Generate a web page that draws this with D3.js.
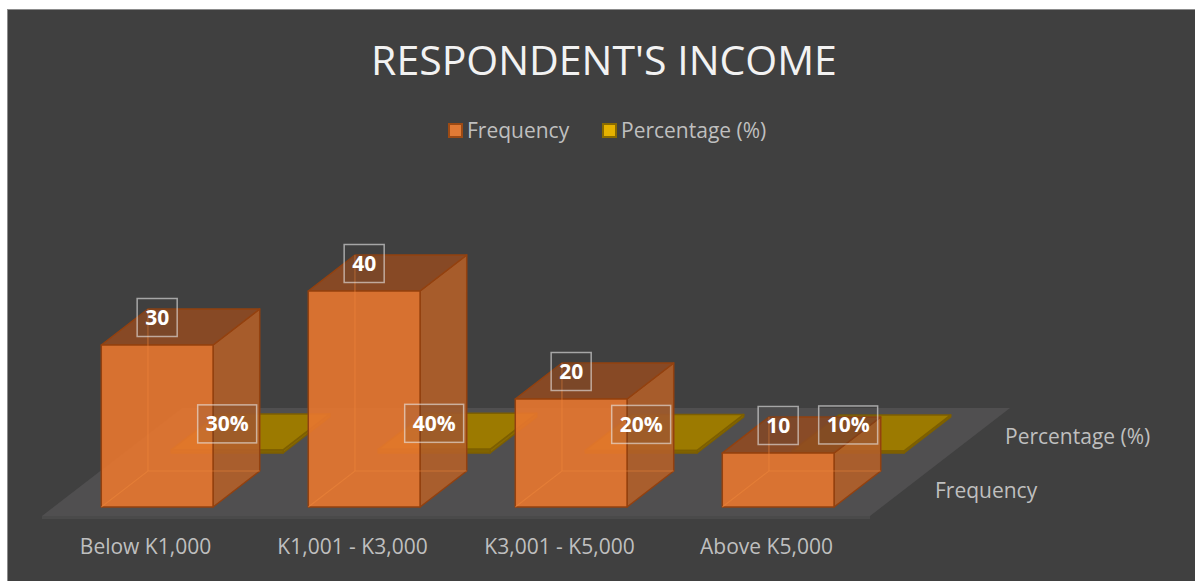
<!DOCTYPE html>
<html>
<head>
<meta charset="utf-8">
<script src="https://cdn.jsdelivr.net/npm/d3@7"></script>
<style>
  body { margin: 0; background: #ffffff; }
  svg { display: block; }
</style>
</head>
<body>
<script>
// data
var categories = ["Below K1,000", "K1,001 - K3,000", "K3,001 - K5,000", "Above K5,000"];
var seriesNames = ["Frequency", "Percentage (%)"];
var frequency = [30, 40, 20, 10];
var percentage = [0.30, 0.40, 0.20, 0.10];

var width = 1195, height = 581;
var baseY = 516, depthX = 140, depthY = 108;

var svg = d3.select("body").append("svg")
    .attr("width", width)
    .attr("height", height)
    .style("font-family", "'Open Sans', sans-serif");

// chart frame
svg.append("rect")
    .attr("x", 7.5).attr("y", 9.5)
    .attr("width", width).attr("height", height)
    .attr("fill", "#404040")
    .attr("stroke", "#8c8c8c");

// scales
var x = d3.scaleBand().domain(categories).range([42, 870])
    .paddingInner(0.46).paddingOuter(0.23);
var z = d3.scaleBand().domain(seriesNames).range([0, 1])
    .paddingInner(1 / 3).paddingOuter(1 / 6);
var y = d3.scaleLinear().domain([0, 50]).range([0, 270]);

function proj(px, h, zz) {
  return [px + zz * depthX, baseY - h - zz * depthY];
}
function poly(pts) { return pts.map(function(p) { return p.join(","); }).join(" "); }

// floor
var floor = [proj(42, 0, 0), proj(870, 0, 0), proj(870, 0, 1), proj(42, 0, 1)];
svg.append("polygon")
    .attr("points", poly([proj(42, 0, 0), proj(870, 0, 0), [870, baseY + 3], [42, baseY + 3]]))
    .attr("fill", "#4a4a4a");
svg.append("polygon").attr("points", poly(floor)).attr("fill", "#504f50");

function drawBar(g, cat, val, series, col) {
  var x0 = x(cat), x1 = x(cat) + x.bandwidth();
  var z0 = z(series), z1 = z(series) + z.bandwidth();
  var h = y(val) + col.extra;
  var fbl = proj(x0, 0, z0), fbr = proj(x1, 0, z0), ftl = proj(x0, h, z0), ftr = proj(x1, h, z0);
  var bbl = proj(x0, 0, z1), bbr = proj(x1, 0, z1), btl = proj(x0, h, z1), btr = proj(x1, h, z1);

  // side face
  g.append("polygon").attr("points", poly([fbr, bbr, btr, ftr]))
      .attr("fill", col.side).attr("fill-opacity", col.op)
      .attr("stroke", col.stroke).attr("stroke-width", 1.5).attr("stroke-linejoin", "round");
  // top face
  g.append("polygon").attr("points", poly([ftl, ftr, btr, btl]))
      .attr("fill", col.top).attr("fill-opacity", col.op)
      .attr("stroke", col.stroke).attr("stroke-width", 1.5).attr("stroke-linejoin", "round");
  // front face
  g.append("polygon").attr("points", poly([fbl, fbr, ftr, ftl]))
      .attr("fill", col.front).attr("fill-opacity", col.op)
      .attr("stroke", col.stroke).attr("stroke-width", 1.5).attr("stroke-linejoin", "round");
  // hidden edges seen through the transparent box
  if (col.hidden) {
    g.append("polyline").attr("points", poly([fbl, bbl, bbr]))
        .attr("fill", "none").attr("stroke", col.hidden).attr("stroke-width", 1.2);
    g.append("line")
        .attr("x1", bbl[0]).attr("y1", bbl[1]).attr("x2", btl[0]).attr("y2", btl[1])
        .attr("stroke", col.hidden).attr("stroke-width", 1.2);
  }
  return { cx: (ftl[0] + ftr[0]) / 2, top: ftl[1] };
}

var orange = { front: "#e8772f", side: "#b35f29", top: "#8f4a22", stroke: "#93410f", op: 0.9, extra: 0, hidden: "rgba(240,135,60,0.5)" };
var gold = { front: "#806300", side: "#8a6b00", top: "#9c7a00", stroke: "#7d5f00", op: 1, extra: 1.5, hidden: null };

// back row first, then front row
var labels = [];
var gBack = svg.append("g");
categories.forEach(function(c, i) {
  var p = drawBar(gBack, c, percentage[i], seriesNames[1], gold);
  labels.push({ x: p.cx, y: p.top - 26, text: d3.format(".0%")(percentage[i]) });
});
var gFront = svg.append("g");
categories.forEach(function(c, i) {
  var p = drawBar(gFront, c, frequency[i], seriesNames[0], orange);
  labels.push({ x: p.cx, y: p.top - 27.5, text: String(frequency[i]) });
});

// data labels
var gl = svg.append("g");
labels.forEach(function(l) {
  var t = gl.append("text")
      .attr("x", l.x).attr("y", l.y + 7.5)
      .attr("text-anchor", "middle")
      .attr("font-size", 21).attr("font-weight", "bold")
      .attr("fill", "#ffffff")
      .text(l.text);
  var w = t.node().getComputedTextLength() + 16;
  gl.insert("rect", function() { return t.node(); })
      .attr("x", l.x - w / 2).attr("y", l.y - 19)
      .attr("width", w).attr("height", 38)
      .attr("fill", "rgba(60,60,60,0.15)")
      .attr("stroke", "rgba(235,235,235,0.6)")
      .attr("stroke-width", 1.5);
});

// category labels
svg.append("g").selectAll("text").data(categories).join("text")
    .attr("x", function(d) { return x(d) + x.bandwidth() / 2; })
    .attr("y", 554)
    .attr("text-anchor", "middle")
    .attr("font-size", 21)
    .attr("fill", "#bfbfbf")
    .text(function(d) { return d; });

// series (depth) labels
svg.append("g").selectAll("text").data(seriesNames).join("text")
    .attr("x", function(d) { return 870 + (z(d) + z.bandwidth() / 2) * depthX + 30; })
    .attr("y", function(d) { return baseY - (z(d) + z.bandwidth() / 2) * depthY + 9; })
    .attr("font-size", 21)
    .attr("fill", "#bfbfbf")
    .text(function(d) { return d; });

// title
svg.append("text")
    .attr("x", 604).attr("y", 75)
    .attr("text-anchor", "middle")
    .attr("font-size", 41)
    .attr("fill", "#f2f2f2")
    .text("RESPONDENT'S INCOME");

// legend
var legend = [
  { name: seriesNames[0], x: 448, fill: "#e07a35", stroke: "#9c4a14" },
  { name: seriesNames[1], x: 602, fill: "#e6b200", stroke: "#8a6b00" }
];
var lg = svg.append("g");
legend.forEach(function(d) {
  lg.append("rect")
      .attr("x", d.x + 1).attr("y", 124)
      .attr("width", 13).attr("height", 13)
      .attr("fill", d.fill).attr("stroke", d.stroke).attr("stroke-width", 2);
  lg.append("text")
      .attr("x", d.x + 19).attr("y", 138)
      .attr("font-size", 21)
      .attr("fill", "#bfbfbf")
      .text(d.name);
});
</script>
</body>
</html>
